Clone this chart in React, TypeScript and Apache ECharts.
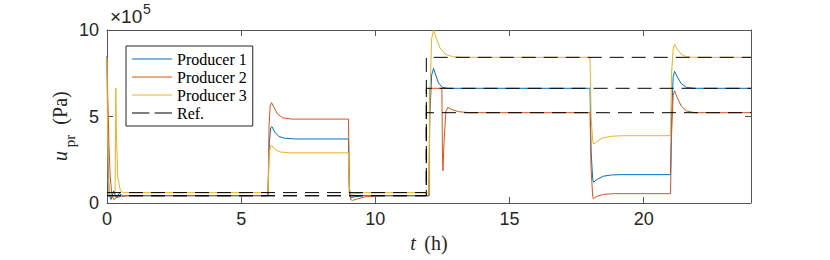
import React, { useEffect, useRef } from 'react';
import * as echarts from 'echarts';

// Values in units of 1e5 Pa, time in hours
const xTicks = [0, 5, 10, 15, 20];
const yTicks = [0, 5, 10];

const producer1: [number, number][] = [
  [0, 8.5], [0.04, 2.5], [0.08, 0.5], [0.15, 0.2], [0.25, 0.7], [0.35, 0.3], [0.45, 0.55], [0.6, 0.42], [6.0, 0.42],
  [6.05, 3.5], [6.1, 4.35], [6.15, 4.41], [6.25, 4.1], [6.4, 3.85], [6.6, 3.75], [7.0, 3.7], [9.0, 3.7],
  [9.03, 0.6], [9.08, 0.3], [9.2, 0.35], [9.5, 0.42], [12.0, 0.42],
  [12.03, 5.0], [12.1, 7.4], [12.17, 7.78], [12.25, 7.4], [12.35, 6.95], [12.5, 6.68], [12.7, 6.63], [18.0, 6.63],
  [18.04, 3.0], [18.1, 1.4], [18.13, 1.2], [18.25, 1.35], [18.5, 1.55], [18.8, 1.62], [19.2, 1.64], [21.0, 1.64],
  [21.04, 5.0], [21.1, 7.3], [21.15, 7.61], [21.25, 7.3], [21.4, 6.9], [21.6, 6.68], [21.9, 6.63], [24, 6.63],
];

const producer2: [number, number][] = [
  [0, 8.4], [0.03, 6.0], [0.07, 3.5], [0.12, 1.5], [0.18, 0.5], [0.25, 0.2], [0.35, 0.3], [0.5, 0.38], [0.8, 0.42], [6.0, 0.42],
  [6.04, 4.5], [6.08, 5.6], [6.13, 5.8], [6.2, 5.6], [6.35, 5.15], [6.55, 4.92], [6.9, 4.85], [9.0, 4.85],
  [9.03, 1.0], [9.08, 0.2], [9.15, 0.15], [9.3, 0.22], [9.6, 0.35], [10.0, 0.42], [12.0, 0.42],
  [12.03, 6.63], [12.48, 6.63], [12.5, 3.0], [12.52, 1.87], [12.56, 3.5], [12.63, 5.3], [12.7, 5.53], [12.85, 5.4], [13.1, 5.28], [13.5, 5.22], [18.0, 5.22],
  [18.04, 2.0], [18.1, 0.4], [18.13, 0.25], [18.25, 0.38], [18.5, 0.5], [18.9, 0.54], [21.0, 0.54],
  [21.04, 4.0], [21.1, 6.2], [21.15, 6.49], [21.25, 6.1], [21.4, 5.6], [21.6, 5.32], [21.9, 5.22], [24, 5.22],
];

const producer3: [number, number][] = [
  [0, 8.4], [0.02, 4.0], [0.05, 1.2], [0.1, 0.5], [0.2, 0.55], [0.3, 0.6], [0.33, 6.65], [0.35, 4.0], [0.4, 1.5], [0.5, 0.7], [0.6, 0.6], [6.0, 0.6],
  [6.04, 2.8], [6.1, 3.3], [6.14, 3.33], [6.25, 3.1], [6.45, 2.95], [6.8, 2.9], [9.0, 2.9],
  [9.03, 0.8], [9.1, 0.5], [9.3, 0.55], [9.6, 0.6], [12.0, 0.6],
  [12.03, 6.0], [12.1, 9.5], [12.17, 10.0], [12.25, 9.6], [12.4, 9.0], [12.6, 8.6], [12.9, 8.45], [13.2, 8.42], [18.0, 8.42],
  [18.04, 5.0], [18.1, 3.6], [18.14, 3.41], [18.25, 3.55], [18.45, 3.75], [18.8, 3.86], [19.3, 3.89], [21.0, 3.89],
  [21.04, 7.5], [21.1, 8.9], [21.15, 9.17], [21.25, 8.9], [21.4, 8.6], [21.6, 8.45], [21.9, 8.42], [24, 8.42],
];

const ref1: [number, number][] = [[0, 0.42], [11.9, 0.42], [11.9, 6.63], [24, 6.63]];
const ref2: [number, number][] = [[0, 0.42], [11.9, 0.42], [11.9, 5.22], [24, 5.22]];
const ref3: [number, number][] = [[0, 0.6], [11.9, 0.6], [11.9, 8.42], [24, 8.42]];

const legendNames = ['Producer 1', 'Producer 2', 'Producer 3', 'Ref.'];
const colors = ['#0072BD', '#D95319', '#EDB120'];

const solidIcon = 'path://M0,0H40V1H0Z';
const dashIcon = 'path://M0,0H17V1H0ZM22,0H39V1H22Z';

export default function App() {
  const ref = useRef<HTMLDivElement>(null);
  useEffect(() => {
    const chart = echarts.init(ref.current!, null, { renderer: 'svg' });
    const axisColor = '#555';
    const mkX = (pos: 'bottom' | 'top', labels: boolean) => ({
      type: 'value', min: 0, max: 24, interval: 5, position: pos,
      axisLine: { show: true, onZero: false, lineStyle: { color: axisColor, width: 1 } },
      axisTick: { show: true, inside: true, length: 6, customValues: xTicks, lineStyle: { color: axisColor } },
      axisLabel: { show: labels, customValues: xTicks, color: '#262626', fontFamily: 'Liberation Sans', fontSize: 18, margin: 7 },
      splitLine: { show: false },
    });
    const mkY = (pos: 'left' | 'right', labels: boolean) => ({
      type: 'value', min: 0, max: 10, interval: 5, position: pos,
      axisLine: { show: true, onZero: false, lineStyle: { color: axisColor, width: 1 } },
      axisTick: { show: true, inside: true, length: 6, customValues: yTicks, lineStyle: { color: axisColor } },
      axisLabel: { show: labels, customValues: yTicks, color: '#262626', fontFamily: 'Liberation Sans', fontSize: 18, margin: 8 },
      splitLine: { show: false },
    });
    const prod = (name: string, data: [number, number][], color: string) => ({
      type: 'line', name, data, symbol: 'none', showSymbol: false,
      lineStyle: { width: 1, color }, itemStyle: { color }, z: 2,
    });
    const refS = (data: [number, number][]) => ({
      type: 'line', name: 'Ref.', data, symbol: 'none', showSymbol: false,
      lineStyle: { width: 1, color: '#000', type: [14, 8] }, itemStyle: { color: '#000' }, z: 3,
    });
    chart.setOption({
      animation: false,
      backgroundColor: '#fff',
      grid: { left: 107, right: 79, top: 30, bottom: 57 },
      xAxis: [mkX('bottom', true), mkX('top', false)],
      yAxis: [mkY('left', true), mkY('right', false)],
      legend: {
        data: [
          { name: legendNames[0], icon: solidIcon },
          { name: legendNames[1], icon: solidIcon },
          { name: legendNames[2], icon: solidIcon },
          { name: legendNames[3], icon: dashIcon },
        ],
        orient: 'vertical', left: 126, top: 46, padding: [5, 6, 5, 6],
        itemWidth: 40, itemHeight: 1.2, itemGap: 2,
        borderColor: '#262626', borderWidth: 1, backgroundColor: '#fff',
        textStyle: { fontFamily: 'Liberation Serif', fontSize: 16, color: '#000' },
      },
      graphic: [
        { type: 'text', x: 110, y: 16, style: { text: '×10', font: '19px "Liberation Sans"', fill: '#262626', textVerticalAlign: 'middle' } },
        { type: 'text', x: 143, y: 9, style: { text: '5', font: '14px "Liberation Sans"', fill: '#262626', textVerticalAlign: 'middle' } },
        { type: 'text', x: 413, y: 243, style: { text: 't', font: 'italic 20px "Liberation Serif"', fill: '#262626', textAlign: 'center', textVerticalAlign: 'middle' } },
        { type: 'text', x: 436, y: 243, style: { text: '(h)', font: '20px "Liberation Serif"', fill: '#262626', textAlign: 'center', textVerticalAlign: 'middle' } },
        { type: 'text', x: 60, y: 156, rotation: Math.PI / 2, style: { text: 'u', font: 'italic 20px "Liberation Serif"', fill: '#262626', textAlign: 'center', textVerticalAlign: 'middle' } },
        { type: 'text', x: 70, y: 141, rotation: Math.PI / 2, style: { text: 'pr', font: '15px "Liberation Serif"', fill: '#262626', textAlign: 'center', textVerticalAlign: 'middle' } },
        { type: 'text', x: 60, y: 108, rotation: Math.PI / 2, style: { text: '(Pa)', font: '20px "Liberation Serif"', fill: '#262626', textAlign: 'center', textVerticalAlign: 'middle' } },
      ],
      series: [
        prod('Producer 1', producer1, colors[0]),
        prod('Producer 2', producer2, colors[1]),
        prod('Producer 3', producer3, colors[2]),
        refS(ref1), refS(ref2), refS(ref3),
      ],
    });
    return () => chart.dispose();
  }, []);
  return <div ref={ref} style={{ position: 'fixed', left: 0, top: 0, width: 830, height: 260 }} />;
}
